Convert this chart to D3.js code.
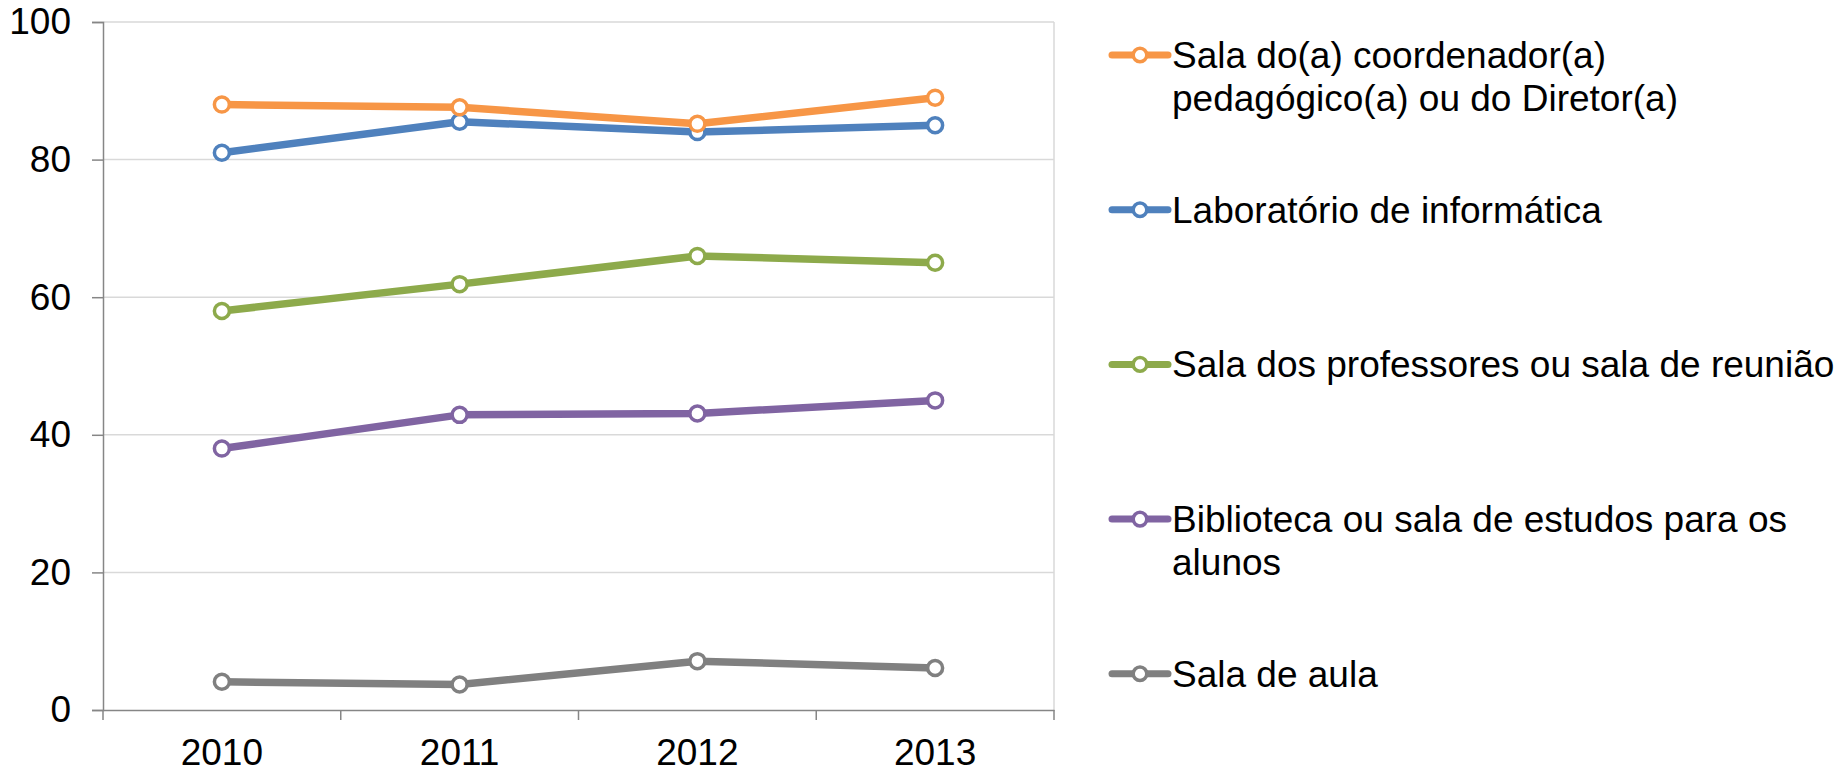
<!DOCTYPE html>
<html>
<head>
<meta charset="utf-8">
<script src="https://cdn.jsdelivr.net/npm/d3@7"></script>
<style>
  html, body { margin: 0; padding: 0; background: #fff; }
  svg { display: block; font-family: "Liberation Sans", Arial, sans-serif; }
</style>
</head>
<body>
<svg id="chart" width="1845" height="774"></svg>
<script>
const years = ["2010", "2011", "2012", "2013"];
const seriesNames = [
  ["Sala do(a) coordenador(a)", "pedagógico(a) ou do Diretor(a)"],
  ["Laboratório de informática"],
  ["Sala dos professores ou sala de reunião"],
  ["Biblioteca ou sala de estudos para os", "alunos"],
  ["Sala de aula"]
];
const coordenador = [88.0, 87.6, 85.2, 89.0];
const laboratorio = [81.0, 85.5, 84.0, 85.0];
const professores = [58.0, 61.9, 66.0, 65.0];
const biblioteca = [38.0, 42.9, 43.1, 45.0];
const salaAula = [4.1, 3.7, 7.1, 6.1];
const yTicks = [0, 20, 40, 60, 80, 100];
const colors = ["#F79646", "#4F81BD", "#8DAA4B", "#8064A2", "#808080"];

const seriesValues = [coordenador, laboratorio, professores, biblioteca, salaAula];

(function () {
const svg = d3.select("#chart");
const pLeft = 103, pRight = 1054, pTop = 22, pBottom = 710;

const x = d3.scaleBand().domain(years).range([pLeft, pRight]);
const y = d3.scaleLinear().domain([0, 100]).range([pBottom, pTop]);

// gridlines
svg.append("g").selectAll("line").data(yTicks.filter(d => d > 0)).join("line")
  .attr("x1", pLeft).attr("x2", pRight)
  .attr("y1", d => y(d)).attr("y2", d => y(d))
  .attr("stroke", "#D9D9D9").attr("stroke-width", 1.5);
// right border
svg.append("line").attr("x1", pRight).attr("x2", pRight).attr("y1", pTop).attr("y2", pBottom)
  .attr("stroke", "#D9D9D9").attr("stroke-width", 1.5);

// y axis
const yAxis = svg.append("g").attr("transform", `translate(${pLeft},0)`)
  .call(d3.axisLeft(y).tickValues(yTicks).tickSize(11).tickPadding(21).tickFormat(d3.format("d")));
yAxis.select(".domain").attr("stroke", "#868686").attr("stroke-width", 1.5);
yAxis.selectAll(".tick line").attr("stroke", "#868686").attr("stroke-width", 1.5);
yAxis.selectAll("text").attr("font-size", 37).attr("fill", "#000")
  .attr("font-family", "Liberation Sans, Arial, sans-serif");

// x axis
const xAxis = svg.append("g").attr("transform", `translate(0,${pBottom})`)
  .call(d3.axisBottom(x).tickSize(0).tickPadding(29));
xAxis.select(".domain").attr("stroke", "#868686").attr("stroke-width", 1.5);
xAxis.selectAll("text").attr("font-size", 37).attr("fill", "#000")
  .attr("font-family", "Liberation Sans, Arial, sans-serif");
// category boundary ticks
const bounds = years.map(d => x(d)).concat([x(years[years.length - 1]) + x.bandwidth()]);
xAxis.append("g").selectAll("line").data(bounds).join("line")
  .attr("x1", d => d).attr("x2", d => d).attr("y1", 0).attr("y2", 10)
  .attr("stroke", "#868686").attr("stroke-width", 1.5);

// lines
const line = d3.line().x((d, i) => x(years[i]) + x.bandwidth() / 2).y(d => y(d));
const drawOrder = [4, 3, 2, 1, 0];
drawOrder.forEach(si => {
  const g = svg.append("g");
  g.append("path").datum(seriesValues[si])
    .attr("d", line).attr("fill", "none")
    .attr("stroke", colors[si]).attr("stroke-width", 7.5)
    .attr("stroke-linejoin", "round").attr("stroke-linecap", "round");
  g.selectAll("circle").data(seriesValues[si]).join("circle")
    .attr("cx", (d, i) => x(years[i]) + x.bandwidth() / 2)
    .attr("cy", d => y(d))
    .attr("r", 7.5)
    .attr("fill", "#fff")
    .attr("stroke", colors[si]).attr("stroke-width", 3.5);
});

// legend
const legTop = 55, legStep = 154.7, legX = 1112;
seriesNames.forEach((lines, i) => {
  const ly = legTop + i * legStep;
  const g = svg.append("g");
  g.append("line").attr("x1", legX).attr("x2", legX + 56).attr("y1", ly).attr("y2", ly)
    .attr("stroke", colors[i]).attr("stroke-width", 7).attr("stroke-linecap", "round");
  g.append("circle").attr("cx", legX + 28).attr("cy", ly).attr("r", 6.8)
    .attr("fill", "#fff").attr("stroke", colors[i]).attr("stroke-width", 3.5);
  const t = g.append("text").attr("x", legX + 60).attr("y", ly + 13)
    .attr("font-size", 37).attr("fill", "#000");
  lines.forEach((s, k) => {
    t.append("tspan").attr("x", legX + 60).attr("dy", k === 0 ? 0 : 43).text(s);
  });
});
})();
</script>
</body>
</html>
